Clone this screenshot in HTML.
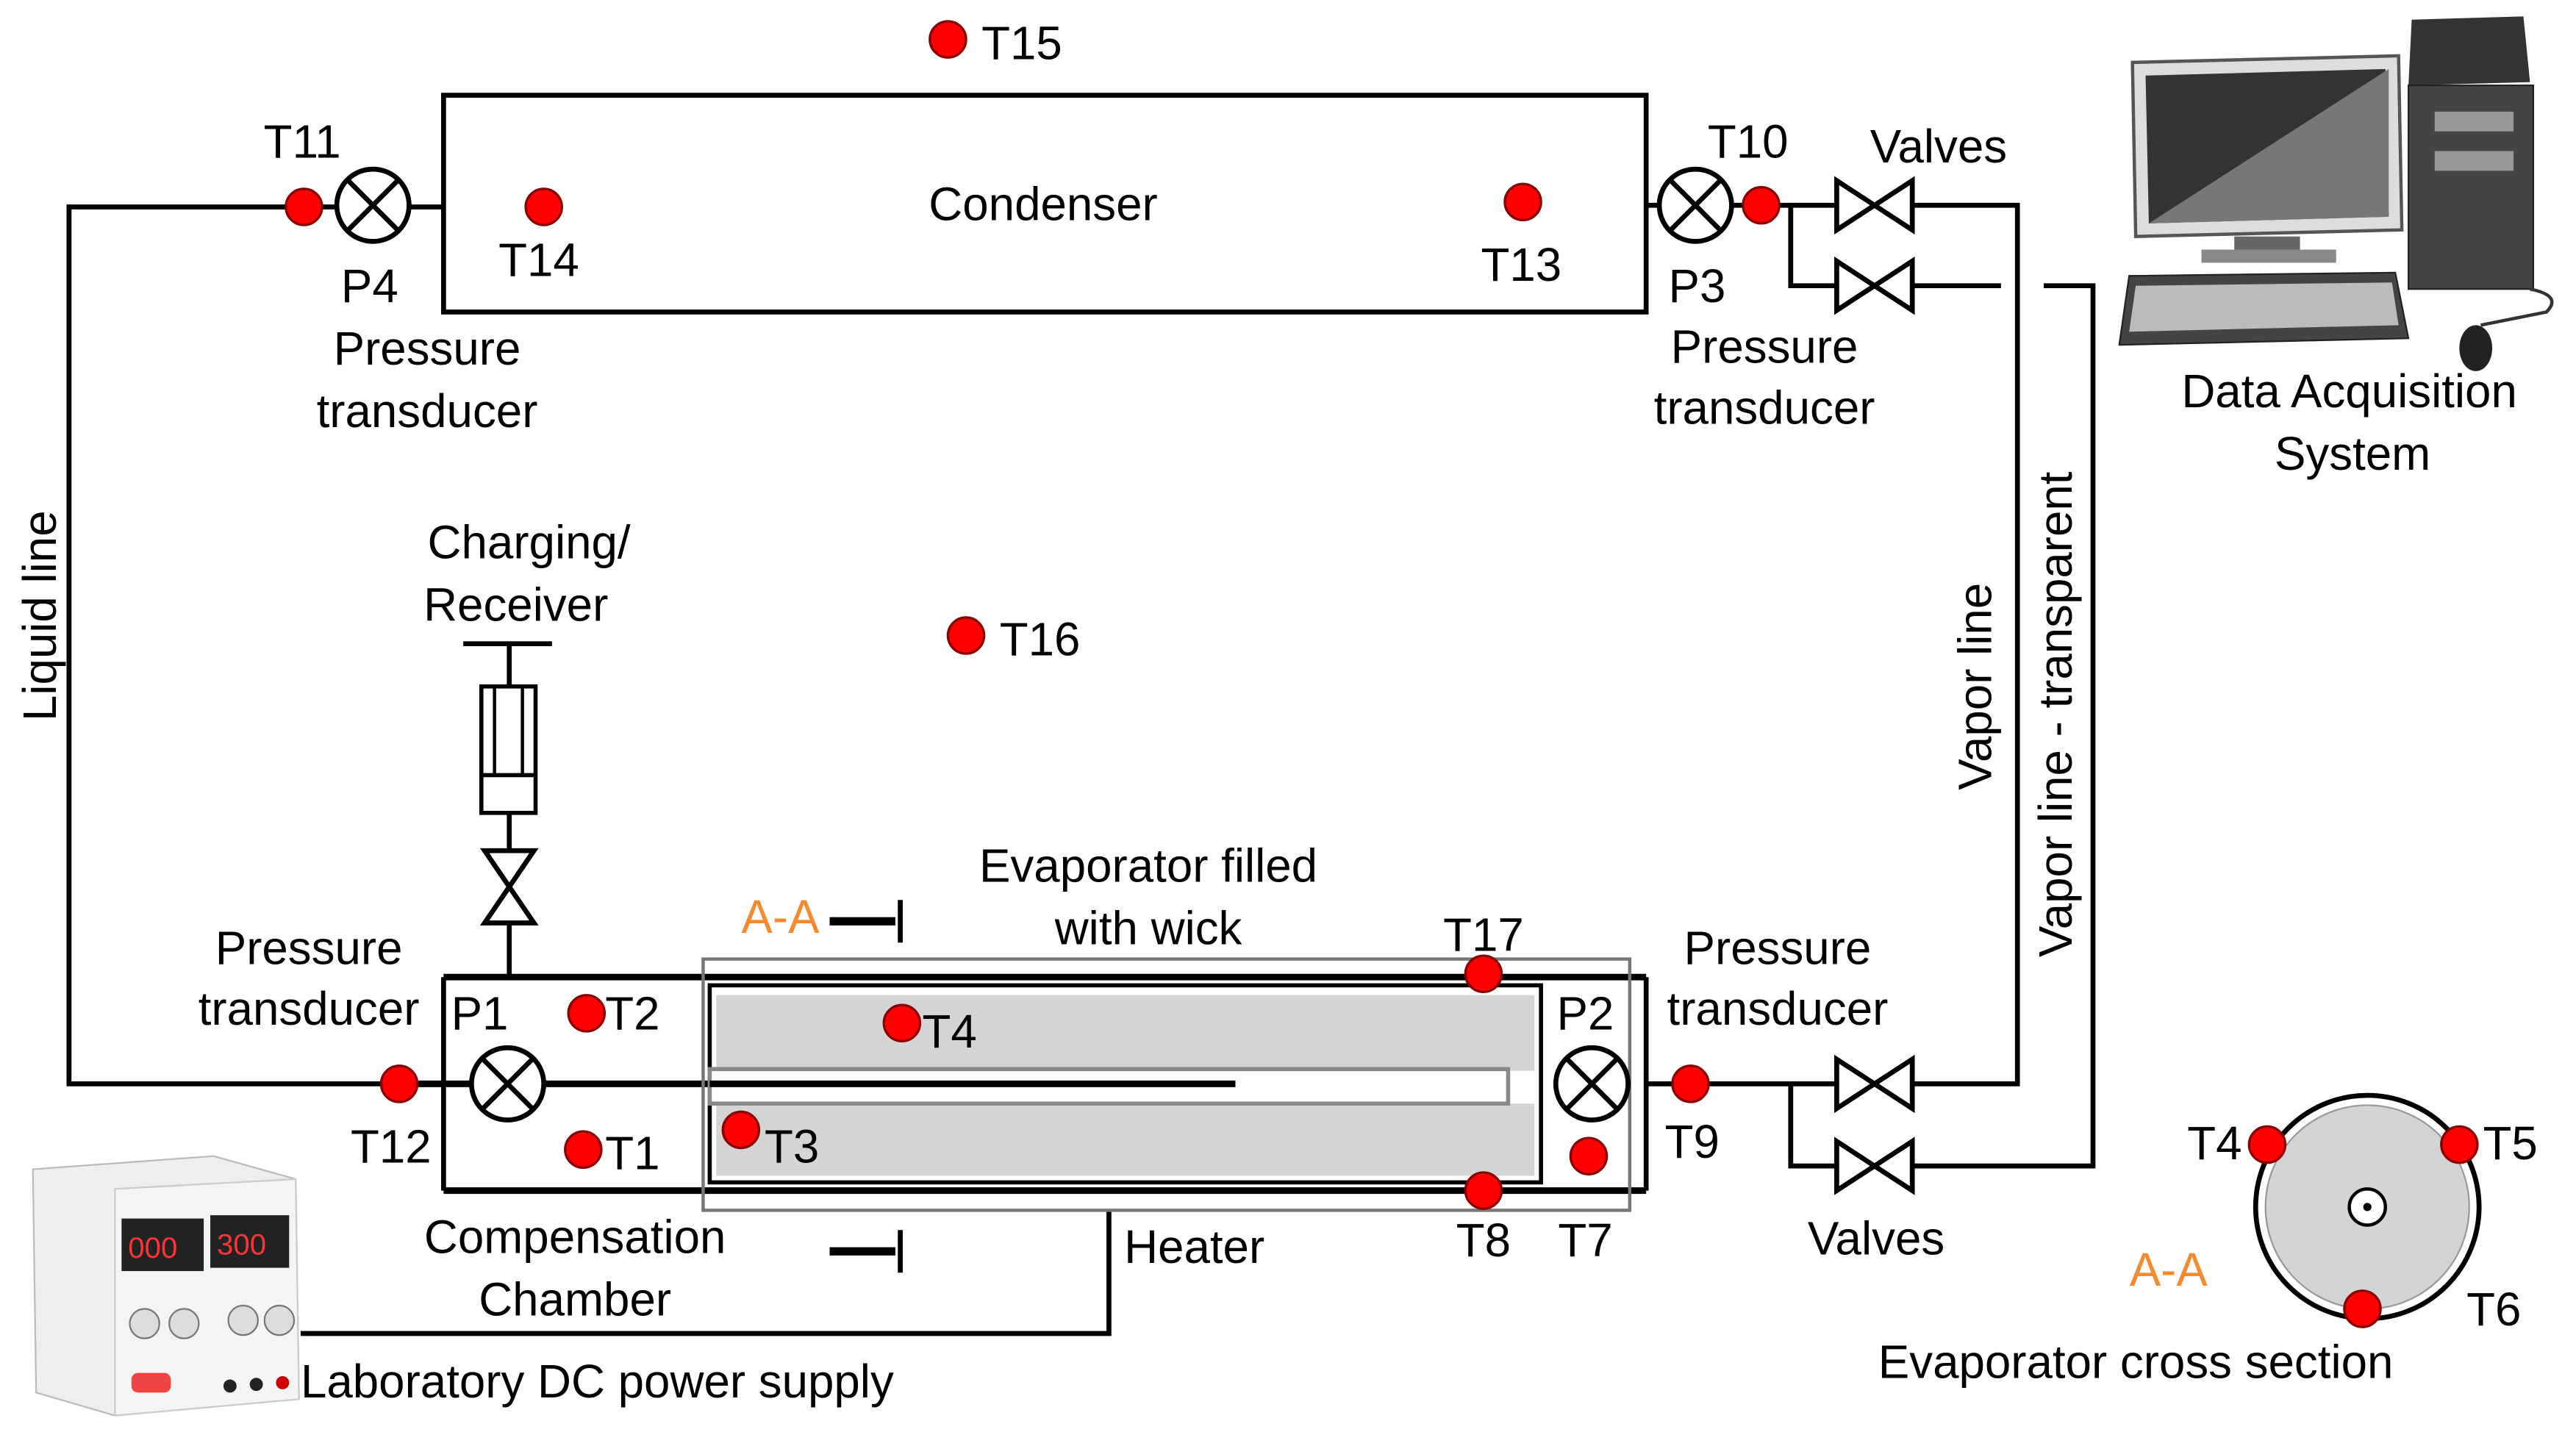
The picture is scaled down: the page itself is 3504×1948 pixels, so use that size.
<!DOCTYPE html>
<html><head><meta charset="utf-8"><style>html,body{margin:0;padding:0;background:#fff}svg{display:block}</style></head><body>
<svg width="3504" height="1948" viewBox="0 0 1568 872" preserveAspectRatio="none" xmlns="http://www.w3.org/2000/svg" font-family="Liberation Sans, sans-serif" font-size="28.5">
<defs>
<g id="dot"><circle r="11" fill="#f00" stroke="#800" stroke-width="1.5"/></g>
<g id="pt"><circle r="22" fill="#fff" stroke="#000" stroke-width="3"/><line x1="-15" y1="-15" x2="15" y2="15" stroke="#000" stroke-width="3"/><line x1="-15" y1="15" x2="15" y2="-15" stroke="#000" stroke-width="3"/></g>
<g id="vh"><path d="M-23,-15 L23,15 L23,-15 L-23,15 Z" fill="#fff" stroke="#000" stroke-width="3"/></g>
</defs>
<g stroke="#000" stroke-width="3" fill="none">
<rect x="270" y="58" width="732" height="132"/>
<polyline points="205,126 42,126 42,660 243,660"/>
<line x1="249" y1="126" x2="270" y2="126"/>
<line x1="1002" y1="125" x2="1010" y2="125"/>
<polyline points="1054,125 1228,125 1228,660 1002,660"/>
<polyline points="1090,125 1090,174 1218,174"/>
<polyline points="1244,174 1274,174 1274,710 1090,710 1090,660"/>
<line x1="243" y1="660" x2="752" y2="660" stroke-width="4"/>
<line x1="270" y1="595" x2="1002" y2="595" stroke-width="4"/>
<line x1="270" y1="725" x2="1002" y2="725" stroke-width="4"/>
<line x1="270" y1="595" x2="270" y2="725"/>
<line x1="1002" y1="595" x2="1002" y2="725"/>
<line x1="310" y1="392" x2="310" y2="595"/>
<line x1="282" y1="392" x2="336" y2="392"/>
<polyline points="675,737 675,812 183,812"/>
</g>
<rect x="428" y="584" width="564" height="153" fill="none" stroke="#777" stroke-width="2"/>
<rect x="432" y="600" width="506" height="120" fill="#fff" stroke="#000" stroke-width="2.5"/>
<rect x="436" y="606" width="498" height="46" fill="#d4d4d4"/>
<rect x="436" y="672" width="498" height="44" fill="#d4d4d4"/>
<rect x="432" y="651" width="486" height="21" fill="#fff" stroke="#888" stroke-width="2.5"/>
<line x1="432" y1="660" x2="752" y2="660" stroke="#000" stroke-width="4"/>
<rect x="293" y="418" width="33" height="77" fill="#fff" stroke="#000" stroke-width="2.5"/>
<rect x="301" y="418" width="17" height="54" fill="none" stroke="#000" stroke-width="2"/>
<line x1="293" y1="472" x2="326" y2="472" stroke="#000" stroke-width="2.5"/>
<path d="M295,518 L325,518 L295,562 L325,562 Z" fill="#fff" stroke="#000" stroke-width="3"/>
<use href="#pt" x="227" y="125"/><use href="#pt" x="1032" y="125"/>
<use href="#pt" x="309" y="660"/><use href="#pt" x="969" y="660"/>
<use href="#vh" x="1141" y="125"/><use href="#vh" x="1141" y="174"/>
<use href="#vh" x="1141" y="660"/><use href="#vh" x="1141" y="710"/>
<g stroke="#000"><line x1="505" y1="561" x2="545" y2="561" stroke-width="5"/><line x1="548" y1="548" x2="548" y2="574" stroke-width="3"/>
<line x1="505" y1="762" x2="545" y2="762" stroke-width="5"/><line x1="548" y1="749" x2="548" y2="775" stroke-width="3"/></g>
<circle cx="1441" cy="735" r="68" fill="#fff" stroke="#000" stroke-width="3"/>
<circle cx="1441" cy="735" r="62" fill="#d4d4d4" stroke="#999" stroke-width="1"/>
<circle cx="1441" cy="735" r="11" fill="#fff" stroke="#000" stroke-width="2"/>
<circle cx="1441" cy="735" r="2.5" fill="#000"/>
<use href="#dot" x="577" y="24"/><use href="#dot" x="185" y="126"/><use href="#dot" x="331" y="126"/>
<use href="#dot" x="927" y="123"/><use href="#dot" x="1072" y="125"/><use href="#dot" x="588" y="387"/>
<use href="#dot" x="243" y="660"/><use href="#dot" x="357" y="617"/><use href="#dot" x="355" y="700"/>
<use href="#dot" x="549" y="623"/><use href="#dot" x="451" y="688"/><use href="#dot" x="903" y="593"/>
<use href="#dot" x="903" y="725"/><use href="#dot" x="967" y="704"/><use href="#dot" x="1029" y="660"/>
<use href="#dot" x="1380" y="697"/><use href="#dot" x="1497" y="697"/><use href="#dot" x="1438" y="797"/>
<g>
<path d="M1298,38 L1460,34 L1462,140 L1300,144 Z" fill="#ddd" stroke="#555" stroke-width="2"/>
<path d="M1306,46 L1452,42 L1454,132 L1308,136 Z" fill="#333"/>
<path d="M1308,136 L1454,42 L1454,132 Z" fill="#777"/>
<rect x="1360" y="144" width="40" height="10" fill="#666"/><rect x="1340" y="152" width="82" height="8" fill="#888"/>
<path d="M1468,12 L1536,10 L1540,50 L1466,52 Z" fill="#333"/>
<rect x="1466" y="52" width="76" height="124" fill="#444" stroke="#222"/>
<rect x="1482" y="68" width="48" height="12" fill="#999"/><rect x="1482" y="92" width="48" height="12" fill="#999"/>
<path d="M1296,168 L1458,166 L1466,206 L1290,210 Z" fill="#444" stroke="#222"/>
<path d="M1300,174 L1456,172 L1460,198 L1296,202 Z" fill="#bbb"/>
<ellipse cx="1507" cy="212" rx="10" ry="14" fill="#222"/>
<path d="M1540,176 Q1560,180 1550,190 L1510,198" fill="none" stroke="#333" stroke-width="2"/>
</g>
<g>
<path d="M20,712 L130,704 L180,718 L182,852 L70,862 L22,848 Z" fill="#eee" stroke="#bbb"/>
<path d="M70,724 L180,718 L182,852 L70,862 Z" fill="#f4f4f4" stroke="#ccc"/>
<rect x="74" y="742" width="50" height="32" fill="#222"/><rect x="128" y="740" width="48" height="32" fill="#222"/>
<text x="78" y="766" fill="#f33" font-size="18">000</text><text x="132" y="764" fill="#f33" font-size="18">300</text>
<circle cx="88" cy="806" r="9" fill="#ddd" stroke="#777"/><circle cx="112" cy="806" r="9" fill="#ddd" stroke="#777"/>
<circle cx="148" cy="804" r="9" fill="#ddd" stroke="#777"/><circle cx="170" cy="804" r="9" fill="#ddd" stroke="#777"/>
<rect x="80" y="836" width="24" height="12" rx="4" fill="#e44"/>
<circle cx="140" cy="844" r="4" fill="#222"/><circle cx="156" cy="843" r="4" fill="#222"/><circle cx="172" cy="842" r="4" fill="#c00"/>
</g>
<g fill="#000" text-anchor="middle">
<text x="622" y="36">T15</text>
<text x="635" y="134">Condenser</text>
<text x="328" y="168">T14</text><text x="926" y="171">T13</text>
<text x="184" y="96">T11</text><text x="1064" y="96">T10</text>
<text x="225" y="184">P4</text><text x="1033" y="184">P3</text>
<text x="260" y="222">Pressure</text><text x="260" y="260">transducer</text>
<text x="1074" y="221">Pressure</text><text x="1074" y="258">transducer</text>
<text x="1180" y="99">Valves</text>
<text x="1430" y="248">Data Acquisition</text><text x="1432" y="286">System</text>
<text x="322" y="340">Charging/</text><text x="314" y="378">Receiver</text>
<text x="633" y="399">T16</text>
<text x="699" y="537">Evaporator filled</text><text x="699" y="575">with wick</text>
<text x="475" y="568" fill="#f58a2f">A-A</text>
<text x="188" y="587">Pressure</text><text x="188" y="624">transducer</text>
<text x="1082" y="587">Pressure</text><text x="1082" y="624">transducer</text>
<text x="292" y="627">P1</text><text x="385" y="627">T2</text><text x="385" y="712">T1</text>
<text x="578" y="638">T4</text><text x="482" y="708">T3</text>
<text x="903" y="579">T17</text><text x="965" y="627">P2</text>
<text x="238" y="708">T12</text><text x="1030" y="705">T9</text>
<text x="903" y="765">T8</text><text x="965" y="765">T7</text>
<text x="1142" y="764">Valves</text>
<text x="350" y="763">Compensation</text><text x="350" y="801">Chamber</text>
<text x="727" y="769">Heater</text>
<text x="1348" y="706">T4</text><text x="1528" y="706">T5</text><text x="1518" y="807">T6</text>
<text x="1320" y="783" fill="#f58a2f">A-A</text>
<text x="1300" y="839">Evaporator cross section</text>
</g>
<text x="183" y="851" fill="#000">Laboratory DC power supply</text>
<g fill="#000" text-anchor="middle">
<text transform="translate(34,375) rotate(-90)">Liquid line</text>
<text transform="translate(1212,418) rotate(-90)">Vapor line</text>
<text transform="translate(1261,435) rotate(-90)">Vapor line - transparent</text>
</g>
</svg>
</body></html>
